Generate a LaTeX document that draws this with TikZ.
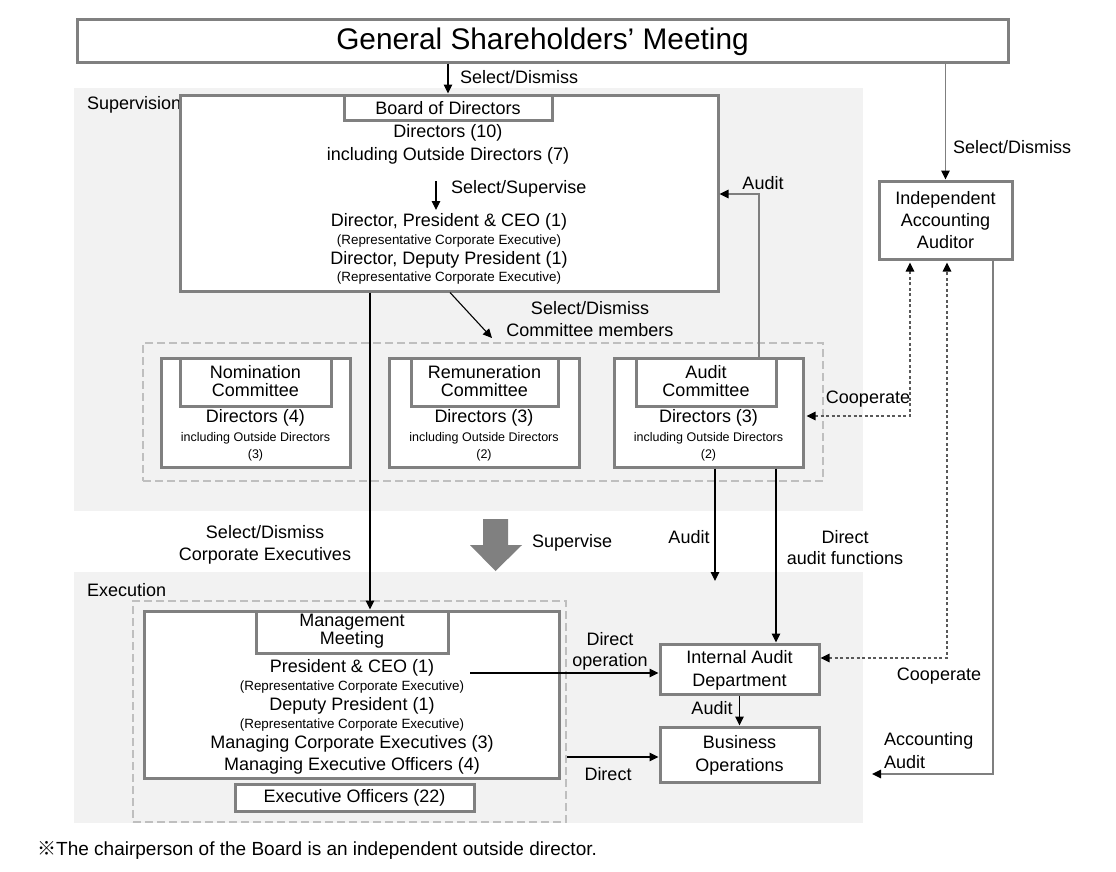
\documentclass[tikz,border=0pt]{standalone}
\usepackage{fontspec}
\setmainfont{Liberation Sans}
\newfontfamily\cjkfont{Noto Sans CJK JP}
\usetikzlibrary{arrows.meta}
\definecolor{boxgray}{HTML}{808080}
\definecolor{regionfill}{HTML}{F2F2F2}
\definecolor{dashgray}{HTML}{BFBFBF}
\definecolor{dotgray}{HTML}{595959}
\definecolor{linegray}{HTML}{7F7F7F}
\tikzset{
  box/.style={draw=boxgray, line width=3pt, fill=white, inner sep=0pt},
  dashbox/.style={draw=dashgray, line width=2pt, dash pattern=on 8pt off 4pt, inner sep=0pt},
  txt/.style={font=\fontsize{18}{21}\selectfont, inner sep=0pt, align=center},
  sm/.style={font=\fontsize{12.5}{14}\selectfont, inner sep=0pt},
  rep/.style={font=\fontsize{13.4}{15}\selectfont, inner sep=0pt},
  tip/.tip={Triangle[length=9pt,width=8.5pt]},
  conn/.style={draw=black, line width=1.1pt, -tip},
  conngray/.style={draw=linegray, line width=1.6pt, -{tip[black]}},
  dotconn/.style={draw=dotgray, line width=1.3pt, dash pattern=on 3pt off 2.5pt, {tip[black]}-{tip[black]}},
}
\begin{document}
\begin{tikzpicture}[x=1pt,y=-1pt]
\useasboundingbox (0,0) rectangle (1116,871);

% regions
\fill[regionfill] (74,88) rectangle (863,511);
\fill[regionfill] (74,572) rectangle (863,823);
\node[txt, anchor=west] (suplabel) at (87,105) {Supervision};
\node[txt, anchor=west] (execlabel) at (87,590) {Execution};

% General shareholders meeting
\node[box, minimum width=931pt, minimum height=43pt] (gsm) at (542.5,40.5) {};
\node[inner sep=0pt, font=\fontsize{29.8}{32}\selectfont] (gsmtext) at (542.5,42) {General Shareholders’ Meeting};

% Board of directors
\node[box, minimum width=538pt, minimum height=196pt] (board) at (449,193) {};
\node[box, minimum width=208pt, minimum height=25pt] (bodtitle) at (448,107.5) {};
\node[txt] (bodtext) at (448,108) {Board of Directors};
\node[txt] (d10) at (448,133) {Directors (10)};
\node[txt] (incl7) at (448,156) {including Outside Directors (7)};
\node[txt] (ceo) at (449,222) {Director, President \& CEO (1)};
\node[rep] (ceorep) at (449,241) {(Representative Corporate Executive)};
\node[txt] (dep) at (449,260) {Director, Deputy President (1)};
\node[rep] (deprep) at (449,278) {(Representative Corporate Executive)};
\coordinate (ss1) at (436,181);
\draw[conn] (ss1) -- (436,210);
\node[txt, anchor=west] (sslabel) at (451,189) {Select/Supervise};

\draw[conn] (gsm.south -| bodtitle.north) -- (bodtitle.north);
\node[txt, anchor=west] (sdlabel) at (460,77) {Select/Dismiss};

% Committees
\node[dashbox, minimum width=680pt, minimum height=138pt] (comgroup) at (483,412) {};

\node[box, minimum width=189pt, minimum height=109pt] (nomcom) at (255.5,412.5) {};
\node[box, minimum width=151pt, minimum height=48pt] (nomtitle) at (255.5,382) {};
\node[txt, font=\fontsize{18}{18}\selectfont] at (255.5,381.5) {Nomination\\Committee};
\node[txt] at (255.5,418) {Directors (4)};
\node[sm] at (255.5,438) {including Outside Directors};
\node[sm] at (255.5,455) {(3)};

\node[box, minimum width=190pt, minimum height=109pt] (remcom) at (484,412.5) {};
\node[box, minimum width=147pt, minimum height=48pt] (remtitle) at (484.5,382) {};
\node[txt, font=\fontsize{18}{18}\selectfont] at (484.5,381.5) {Remuneration\\Committee};
\node[txt] at (484,418) {Directors (3)};
\node[sm] at (484,438) {including Outside Directors};
\node[sm] at (484,455) {(2)};

\node[box, minimum width=189pt, minimum height=109pt] (audcom) at (708.5,412.5) {};
\node[box, minimum width=140pt, minimum height=48pt] (audtitle) at (706,382) {};
\node[txt, font=\fontsize{18}{18}\selectfont] at (706,381.5) {Audit\\Committee};
\node[txt] at (708.5,418) {Directors (3)};
\node[sm] at (708.5,438) {including Outside Directors};
\node[sm] at (708.5,455) {(2)};

% Board -> committees
\coordinate (selc) at (492,338);
\draw[conn] (board.south -| 450,0) -- (selc);
\node[txt, font=\fontsize{18}{22}\selectfont] (selclabel) at (590,319) {Select/Dismiss\\Committee members};

% Audit committee -> board
\draw[conngray] (audcom.north -| 759,0) |- (board.east |- 0,194);
\node[txt] (auditlabel1) at (763,183) {Audit};

% Execution
\node[dashbox, minimum width=433pt, minimum height=221pt] (execgroup) at (349.5,711.5) {};
\node[box, minimum width=415pt, minimum height=167pt] (mgmt) at (351.5,694.5) {};
\node[box, minimum width=192pt, minimum height=42pt] (mgmttitle) at (352,632) {};
\node[txt, font=\fontsize{18}{18}\selectfont] at (352,631.5) {Management\\Meeting};
\node[txt] (pceo) at (352,668) {President \& CEO (1)};
\node[rep] at (352,687) {(Representative Corporate Executive)};
\node[txt] (pdep) at (352,706) {Deputy President (1)};
\node[rep] at (352,725) {(Representative Corporate Executive)};
\node[txt] (mce) at (352,744) {Managing Corporate Executives (3)};
\node[txt] (meo) at (352,766) {Managing Executive Officers (4)};
\node[box, minimum width=239pt, minimum height=27pt] (eoff) at (354.5,797.5) {};
\node[txt] (eofftext) at (354.5,798) {Executive Officers (22)};

% Board -> management
\draw[conn] (board.south -| 370,0) -- (mgmttitle.north -| 370,0);
\node[txt, font=\fontsize{18}{22}\selectfont] (sdcelabel) at (265,545) {Select/Dismiss\\Corporate Executives};

% Supervise big arrow
\fill[boxgray] (483,519) -- (508,519) -- (508,545) -- (522,545) -- (495.5,571) -- (470,545) -- (483,545) -- cycle;
\node[txt, anchor=west] (suplbl) at (532,543) {Supervise};

% Internal audit & business operations
\node[box, minimum width=159pt, minimum height=50pt] (iad) at (739.5,669) {};
\node[txt, font=\fontsize{18}{23}\selectfont] at (739.5,670.5) {Internal Audit\\Department};
\node[box, minimum width=159pt, minimum height=55pt] (bo) at (739.5,754.5) {};
\node[txt, font=\fontsize{18}{23}\selectfont] at (739.5,755.5) {Business\\Operations};

\coordinate (auditend) at (715,581);
\draw[conn] (audcom.south -| auditend) -- (auditend);
\node[txt] (auditlabel2) at (689,537) {Audit};
\draw[conn] (audcom.south -| 776,0) -- (iad.north -| 776,0);
\node[txt, font=\fontsize{18}{21}\selectfont] (dafl) at (845,547.5) {Direct\\audit functions};

\coordinate (dop) at (470,673);
\draw[conn] (dop) -- (iad.west |- dop);
\node[txt, font=\fontsize{18}{21}\selectfont] (doplabel) at (610,651.5) {Direct\\operation};

\draw[conn] (iad.south) -- (bo.north);
\node[txt] (auditlabel3) at (712,708) {Audit};

\draw[conn] (execgroup.east |- 0,757) -- (bo.west |- 0,757);
\node[txt] (directlabel) at (608,774) {Direct};

% Independent accounting auditor
\node[box, minimum width=133pt, minimum height=78pt] (auditor) at (945.5,220) {};
\node[txt, font=\fontsize{18}{22}\selectfont] at (945.5,220) {Independent\\Accounting\\Auditor};
\draw[conngray] (gsm.south -| auditor.north) -- (auditor.north);
\node[txt, anchor=west] (sdlabel2) at (953,147) {Select/Dismiss};

\draw[dotconn, shorten <=2pt, shorten >=2pt] (audcom.east |- 0,416) -| (auditor.south -| 910,0);
\node[txt] (coop1) at (868,399) {Cooperate};
\draw[dotconn, shorten >=2pt] (iad.east |- 0,658) -| (auditor.south -| 947,0);
\node[txt] (coop2) at (939,676) {Cooperate};

\coordinate (accend) at (872,774);
\draw[conngray] (auditor.south -| 993,0) |- (accend);
\node[txt, anchor=west, align=left, font=\fontsize{18}{23}\selectfont] (acclabel) at (884,750.5) {Accounting\\Audit};

% footnote
\node[txt, anchor=west, font=\fontsize{19}{22}\selectfont] (footnote) at (37,850) {{\cjkfont ※}The chairperson of the Board is an independent outside director.};
\end{tikzpicture}
\end{document}
